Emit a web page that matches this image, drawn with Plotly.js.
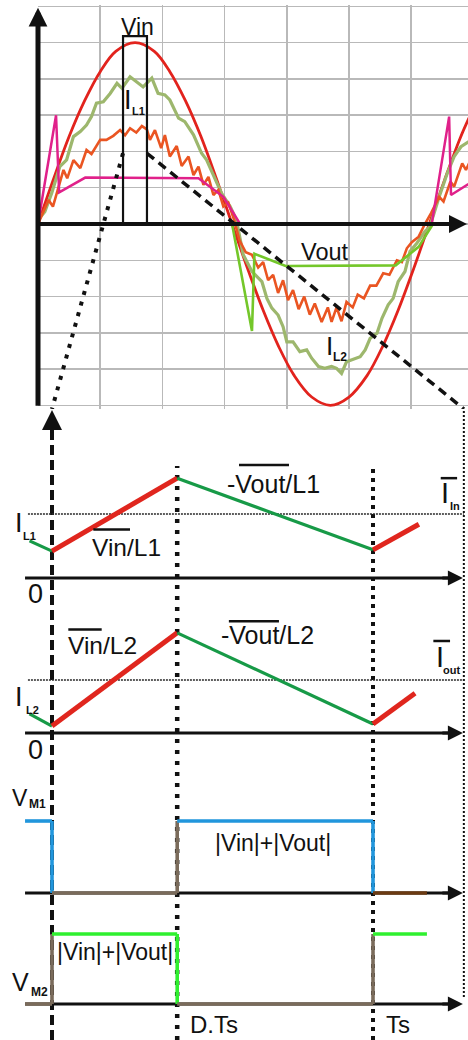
<!DOCTYPE html>
<html>
<head>
<meta charset="utf-8">
<script src="https://cdn.plot.ly/plotly-3.0.1.min.js"></script>
<style>
  html, body { margin: 0; padding: 0; background: #fff; }
  #chart { width: 468px; height: 1040px; }
</style>
</head>
<body>
<div id="chart"></div>
<script>
const W = 468, H = 1040;

// ---------- line-period view (one grid cell = one unit on each axis) ----------
const phaseVin = [0, 0.25, 0.5, 0.75, 1.0, 1.25, 1.56, 1.87, 2.12, 2.37, 2.62, 2.87, 3.12,
                  3.37, 3.62, 3.87, 4.12, 4.40, 4.70, 5.00, 5.29, 5.54, 5.79, 6.04, 6.29, 6.54, 6.79, 6.95];
const vin = [0, 1.24, 2.41, 3.40, 4.20, 4.76, 5.0, 4.76, 4.20, 3.40, 2.41, 1.24, 0,
             -1.23, -2.38, -3.38, -4.18, -4.77, -5.0, -4.77, -4.18, -3.38, -2.38, -1.23, 0, 1.23, 2.38, 3.0];

const phaseIL = [0.00, 0.11, 0.22, 0.35, 0.46, 0.57, 0.68, 0.78, 0.86, 0.94, 1.05, 1.16, 1.27, 1.35, 1.48,
                 1.59, 1.69, 1.83, 1.93, 2.04, 2.12, 2.26, 2.36, 2.50, 2.63, 2.71, 2.82, 2.95, 3.09, 3.19,
                 3.30, 3.44, 3.52, 3.60, 3.68, 3.76, 3.86, 3.94, 4.00, 4.10, 4.21, 4.32, 4.40, 4.51, 4.61,
                 4.72, 4.80, 4.88, 4.96, 5.04, 5.18, 5.26, 5.34, 5.45, 5.53, 5.63, 5.71, 5.79, 5.90, 5.98,
                 6.09, 6.22, 6.30, 6.45, 6.58, 6.69, 6.80, 6.95];
const iL = [0.11, 0.34, 0.85, 1.58, 1.77, 2.41, 2.55, 2.73, 2.96, 3.33, 3.37, 3.60, 3.88, 3.74, 4.06,
            3.92, 3.78, 4.02, 3.60, 3.56, 3.42, 2.92, 2.82, 2.46, 1.95, 1.77, 1.35, 0.85, 0.48, 0.11,
            -0.85, -1.31, -1.45, -1.59, -2.05, -2.32, -2.51, -2.83, -3.25, -3.25, -3.52, -3.47, -3.70, -3.93, -3.98,
            -3.93, -3.98, -4.12, -3.80, -3.75, -3.66, -3.47, -3.15, -3.01, -2.60, -2.23, -2.05, -1.59, -1.31, -0.76,
            -0.53, -0.21, -0.07, 0.75, 1.40, 1.86, 2.13, 2.30];

const phaseRipple = [0.00, 0.17, 0.24, 0.41, 0.47, 0.57, 0.68, 0.78, 0.86, 1.00, 1.10, 1.21, 1.32, 1.40, 1.48,
                     1.58, 1.67, 1.75, 1.80, 1.88, 1.98, 2.04, 2.12, 2.23, 2.31, 2.42, 2.50, 2.58, 2.66, 2.74,
                     2.82, 2.90, 2.98, 3.06, 3.15, 3.24, 3.34, 3.44, 3.54, 3.62, 3.70, 3.78, 3.86, 3.94, 4.02,
                     4.10, 4.19, 4.28, 4.37, 4.45, 4.56, 4.66, 4.72, 4.80, 4.88, 4.96, 5.06, 5.14, 5.24, 5.34,
                     5.44, 5.55, 5.65, 5.77, 5.85, 5.93, 6.01, 6.12, 6.22, 6.32, 6.45, 6.52, 6.63, 6.69, 6.82,
                     6.88, 6.95];
const iRipple = [0.00, 0.66, 0.48, 1.49, 1.26, 1.76, 1.54, 2.04, 1.93, 2.32, 2.32, 2.43, 2.59, 2.45, 2.64,
                 2.52, 2.70, 2.61, 2.32, 2.59, 2.09, 2.45, 1.86, 2.15, 1.60, 1.86, 1.35, 1.58, 1.08, 1.30,
                 0.80, 0.94, 0.48, 0.59, 0.13, -0.45, -0.78, -0.85, -1.20, -1.05, -1.55, -1.40, -1.90, -1.55, -2.10,
                 -1.82, -2.35, -2.00, -2.50, -2.19, -2.70, -2.30, -2.70, -2.30, -2.68, -2.15, -2.30, -1.95, -2.05, -1.70,
                 -1.70, -1.36, -1.40, -1.00, -1.05, -0.67, -0.50, -0.35, 0.00, 0.30, 0.75, 0.62, 1.17, 1.03, 1.67,
                 1.49, 1.75];

const phaseVm = [0.00, 0.29, 0.34, 0.76, 2.58, 2.98, 3.25, null, 6.33, 6.61, 6.64, 6.92];
const vmTrace = [0, 3.0, 0.87, 1.28, 1.26, 0.75, 0, null, 0, 2.96, 0.80, 1.10];

const phaseVout = [3.12, 3.44, 3.48, 3.98, 5.75, 6.12, 6.34];
const vout = [0, -2.95, -0.82, -1.16, -1.14, -0.63, -0.03];

// one switching period, as marked on the line-period view
const periodBox = [1.367, 1.752];
const periodBoxTop = 5.18;
const boxTapY = 1.95;

// ---------- one switching period (time in units of Ts) ----------
const duty = 0.39;
const tIL1 = [-0.07, 0, duty, 1, 1.143];
const iL1 = [0.58, 0.42, 1.56, 0.44, 0.84];
const tIL2 = [-0.07, 0, duty, 1, 1.131];
const iL2 = [0.36, 0.13, 1.89, 0.17, 0.75];
const iInAvg = 1;
const iOutAvg = 1;
const tSw = [-0.084, 0, 0, duty, duty, 1, 1, 1.168];
const vM1 = [1, 1, 0, 0, 1, 1, 0, 0];
const vM2 = [0, 0, 1, 1, 0, 0, 1, 1];
const vM1Colors = ['#2196dc', '#2196dc', '#7a6b5b', '#7a6b5b', '#2196dc', '#2196dc', '#6b3a12'];
const vM2Colors = ['#7a6b5b', '#7a6b5b', '#2ff02f', '#2ff02f', '#7a6b5b', '#7a6b5b', '#2ff02f'];
const tAxisStart = -0.084;
const tAxisEnd = 1.283;

// ---------- layout helpers ----------
function yBand(zeroPx, pxPerUnit, topPx, botPx) {
  return { domain: [1 - botPx / H, 1 - topPx / H],
           range: [(zeroPx - botPx) / pxPerUnit, (zeroPx - topPx) / pxPerUnit] };
}
function xBand(zeroPx, pxPerUnit, leftPx, rightPx) {
  return { domain: [leftPx / W, rightPx / W],
           range: [(leftPx - zeroPx) / pxPerUnit, (rightPx - zeroPx) / pxPerUnit] };
}
const hidden = { showgrid: false, zeroline: false, showline: false, showticklabels: false, ticks: '', fixedrange: true };
const gridded = { showgrid: true, gridcolor: '#b9b9b9', gridwidth: 1.5, dtick: 1, tick0: 0,
                  zeroline: false, showline: false, showticklabels: false, ticks: '', fixedrange: true };

const topX = xBand(38, 62.2, 38, 468);
const topY = yBand(224, 36.27, 4.6, 409);
const swX = xBand(52, 321, 0, 468);
const yIL1 = yBand(578, 64, 440, 600);
const yIL2 = yBand(733, 53, 600, 765);
const yVM1 = yBand(893, 72, 770, 912);
const yVM2 = yBand(1004, 70, 912, 1040);

const FONT = 'Liberation Sans, Arial, sans-serif';
const INK = '#111111';

// ---------- traces ----------
const traces = [];
const lineTrace = (x, y, xa, ya, line) =>
  ({ type: 'scatter', mode: 'lines', x, y, xaxis: xa, yaxis: ya, line, hoverinfo: 'skip', showlegend: false });

// line-period curves
traces.push(lineTrace(phaseVin, vin, 'x', 'y', { color: '#e2231d', width: 2.8, shape: 'spline', smoothing: 1 }));
traces.push(lineTrace(phaseIL, iL, 'x', 'y', { color: '#9db76d', width: 3.2 }));
traces.push(lineTrace(phaseRipple, iRipple, 'x', 'y', { color: '#ea5522', width: 2.6 }));
traces.push(Object.assign(lineTrace(phaseVm, vmTrace, 'x', 'y', { color: '#e0218a', width: 2.5 }), { connectgaps: false }));
traces.push(lineTrace(phaseVout, vout, 'x', 'y', { color: '#74c72a', width: 2.6 }));

// switching-period box
traces.push(lineTrace([periodBox[0], periodBox[0], periodBox[1], periodBox[1]],
                      [0, periodBoxTop, periodBoxTop, 0], 'x', 'y', { color: INK, width: 2.2 }));

// zoom guides from the box down to the switching-period diagrams
const lowerEdgeY = topY.range[0];
const toTopX = px => (px - 38) / 62.2;
traces.push(lineTrace([periodBox[0], toTopX(52)], [boxTapY, lowerEdgeY], 'x', 'y',
                      { color: INK, width: 4, dash: '4px,7px' }));
traces.push(lineTrace([periodBox[1], toTopX(464)], [boxTapY, lowerEdgeY], 'x', 'y',
                      { color: INK, width: 3.5, dash: '9px,6px' }));

// time axes of the four diagrams
['y2', 'y3', 'y4', 'y5'].forEach(ya => {
  traces.push(lineTrace([tAxisStart, tAxisEnd - 0.02], [0, 0], 'x2', ya, { color: INK, width: 3 }));
});

// average current levels
traces.push(lineTrace([-0.075, tAxisEnd], [iInAvg, iInAvg], 'x2', 'y2', { color: '#2a2a2a', width: 1.5, dash: '2px,1px' }));
traces.push(lineTrace([-0.075, tAxisEnd], [iOutAvg, iOutAvg], 'x2', 'y3', { color: '#2a2a2a', width: 1.5, dash: '2px,1px' }));

// inductor currents: rising slopes red, falling slopes green
function rippleSegments(t, i, ya) {
  for (let k = 0; k < t.length - 1; k++) {
    const rising = i[k + 1] > i[k];
    traces.push(lineTrace([t[k], t[k + 1]], [i[k], i[k + 1]], 'x2', ya,
      rising ? { color: '#e0261e', width: 5 } : { color: '#179a47', width: 3.2 }));
  }
}
rippleSegments(tIL1, iL1, 'y2');
rippleSegments(tIL2, iL2, 'y3');

// switch voltages
function stepSegments(t, v, colors, ya) {
  for (let k = 0; k < t.length - 1; k++) {
    traces.push(lineTrace([t[k], t[k + 1]], [v[k], v[k + 1]], 'x2', ya, { color: colors[k], width: 3.6 }));
  }
}
stepSegments(tSw, vM1, vM1Colors, 'y4');
stepSegments(tSw, vM2, vM2Colors, 'y5');

// ---------- shapes ----------
const shapes = [];
const vGuide = (t, topPx, botPx, width, dash) => ({
  type: 'line', xref: 'x2', yref: 'paper', x0: t, x1: t, y0: 1 - botPx / H, y1: 1 - topPx / H,
  line: { color: INK, width, dash }, layer: 'below'
});
shapes.push(vGuide(0, 426, 1040, 4, '10px,5px'));
shapes.push(vGuide(duty, 466, 1040, 4.5, '4px,7px'));
shapes.push(vGuide(1, 465, 1040, 4, '4px,5px'));
shapes.push(vGuide(tAxisEnd, 410, 997, 2, '2px,2px'));

const bar = (ya, x0, x1, y) => ({ type: 'line', xref: 'x2', yref: ya, x0, x1, y0: y, y1: y, line: { color: INK, width: 2.5 } });
shapes.push(bar('y2', 0.1287, 0.2430, 0.758));
shapes.push(bar('y2', 0.5826, 0.7383, 1.766));
shapes.push(bar('y2', 1.211, 1.262, 1.56));
shapes.push(bar('y3', 0.0508, 0.1548, 1.953));
shapes.push(bar('y3', 0.551, 0.707, 2.11));
shapes.push(bar('y3', 1.188, 1.240, 1.736));

// ---------- annotations ----------
const ann = [];
const label = (text, xa, ya, x, y, size, pad) => ann.push({
  text, xref: xa, yref: ya, x, y, showarrow: false, xanchor: 'center', yanchor: 'middle',
  borderpad: pad === undefined ? 1 : pad,
  font: { family: FONT, size, color: INK }
});
const sub = (text, xa, ya, x, y, size) => label('<b>' + text + '</b>', xa, ya, x, y, size);

label('Vin', 'x', 'y', 1.605, 5.44, 23);
label('I', 'x', 'y', 1.45, 3.42, 27); sub('L1', 'x', 'y', 1.61, 3.12, 11);
label('Vout', 'x', 'y', 4.62, -0.76, 23.5);
label('I', 'x', 'y', 4.68, -3.36, 26); sub('L2', 'x', 'y', 4.86, -3.67, 12);

label('I', 'x2', 'y2', -0.103, 0.86, 27); sub('L1', 'x2', 'y2', -0.071, 0.66, 11);
label('0', 'x2', 'y2', -0.051, -0.25, 27);
label('Vin/L1', 'x2', 'y2', 0.2315, 0.48, 24.5);
label('-Vout/L1', 'x2', 'y2', 0.690, 1.47, 25);
label('I', 'x2', 'y2', 1.225, 1.33, 29); sub('In', 'x2', 'y2', 1.254, 1.12, 11);

label('I', 'x2', 'y3', -0.103, 0.67, 27); sub('L2', 'x2', 'y3', -0.061, 0.44, 11);
label('0', 'x2', 'y3', -0.051, -0.32, 27);
label('Vin/L2', 'x2', 'y3', 0.158, 1.645, 24.5);
label('-Vout/L2', 'x2', 'y3', 0.671, 1.84, 25);
label('I', 'x2', 'y3', 1.209, 1.443, 29); sub('out', 'x2', 'y3', 1.246, 1.19, 11);

label('V', 'x2', 'y4', -0.0997, 1.32, 23); sub('M1', 'x2', 'y4', -0.044, 1.24, 12);
label('|Vin|+|Vout|', 'x2', 'y4', 0.69, 0.70, 23);

label('|Vin|+|Vout|', 'x2', 'y5', 0.196, 0.74, 23);
label('V', 'x2', 'y5', -0.0997, 0.32, 25); sub('M2', 'x2', 'y5', -0.04, 0.17, 12);
label('D.Ts', 'x2', 'y5', 0.506, -0.29, 24, 0);
label('Ts', 'x2', 'y5', 1.078, -0.29, 24, 0);

// axis arrows
const arrow = (o) => ann.push(Object.assign({ text: '', showarrow: true, arrowcolor: INK, arrowhead: 2, standoff: 0 }, o));
arrow({ xref: 'x', yref: 'y', x: 0, y: 5.96, axref: 'x', ayref: 'y', ax: 0, ay: topY.range[0] + 0.05, arrowwidth: 5, arrowsize: 0.75 });
arrow({ xref: 'x', yref: 'y', x: 6.897, y: 0, axref: 'x', ayref: 'y', ax: 0, ay: 0, arrowwidth: 4, arrowsize: 0.9 });
['y2', 'y3', 'y4', 'y5'].forEach(ya => {
  arrow({ xref: 'x2', yref: ya, x: tAxisEnd - 0.003, y: 0, ax: -22, ay: 0, arrowwidth: 3, arrowsize: 1 });
});
arrow({ xref: 'x2', yref: 'paper', x: 0, y: 1 - 410 / H, ax: 0, ay: 24, arrowwidth: 4, arrowsize: 1 });

const layout = {
  width: W, height: H,
  margin: { l: 0, r: 0, t: 0, b: 0, pad: 0 },
  paper_bgcolor: '#ffffff', plot_bgcolor: 'rgba(0,0,0,0)',
  showlegend: false,
  xaxis: Object.assign({}, gridded, topX, { anchor: 'y' }),
  yaxis: Object.assign({}, gridded, topY, { anchor: 'x' }),
  xaxis2: Object.assign({}, hidden, swX, { anchor: 'y2' }),
  yaxis2: Object.assign({}, hidden, yIL1, { anchor: 'x2' }),
  yaxis3: Object.assign({}, hidden, yIL2, { anchor: 'x2' }),
  yaxis4: Object.assign({}, hidden, yVM1, { anchor: 'x2' }),
  yaxis5: Object.assign({}, hidden, yVM2, { anchor: 'x2' }),
  shapes, annotations: ann
};

Plotly.newPlot('chart', traces, layout, { displayModeBar: false, staticPlot: true });
</script>
</body>
</html>
